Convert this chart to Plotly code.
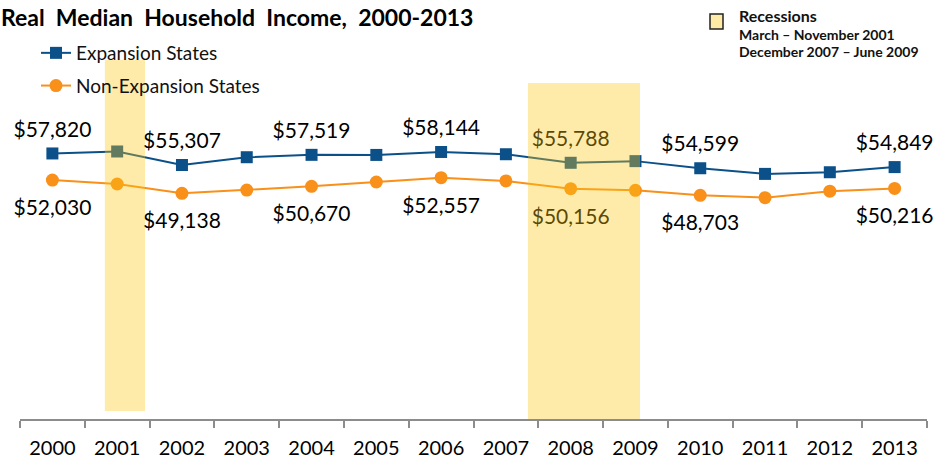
import plotly.graph_objects as go

# Real median household income by year
years = [str(y) for y in range(2000, 2014)]
expansion = [57820, 58250, 55307, 57000, 57519, 57500, 58144,
             57650, 55788, 56150, 54599, 53370, 53730, 54849]
non_expansion = [52030, 51170, 49138, 49850, 50670, 51600, 52557,
                 51830, 50156, 49800, 48703, 48200, 49600, 50216]
labeled_years = ["2000", "2002", "2004", "2006", "2008", "2010", "2013"]

BLUE = "#0B5089"
ORANGE = "#F8901A"
SHADE = "rgba(252,199,20,0.36)"
FONT = "Lato"

# plot-area geometry in pixels (used to place items outside the axes)
W, H = 934, 466
L, R, T, B = 20, 7, 47, 47
PW, PH = W - L - R, H - T - B
YMAX = 81000


def px_x(px):
    return (px - L) / PW


def px_y(py):
    return (H - B - py) / PH


def money(v):
    return "${:,}".format(v)


fig = go.Figure()

fig.add_trace(go.Scatter(
    x=years, y=expansion, name="Expansion States", mode="lines+markers",
    line=dict(color=BLUE, width=2),
    marker=dict(symbol="square", size=12, color=BLUE),
    legendgroup="a",
))
fig.add_trace(go.Scatter(
    x=years, y=non_expansion, name="Non-Expansion States", mode="lines+markers",
    line=dict(color=ORANGE, width=2),
    marker=dict(symbol="circle", size=13, color=ORANGE),
    legendgroup="b",
))

# value labels (invisible markers set the text offset from the point)
idx = [years.index(y) for y in labeled_years]
fig.add_trace(go.Scatter(
    x=labeled_years, y=[expansion[i] for i in idx],
    text=[money(expansion[i]) for i in idx],
    mode="markers+text", textposition="top center",
    marker=dict(size=17, opacity=0),
    textfont=dict(family=FONT, size=21, color="#000000"),
    cliponaxis=False, showlegend=False, hoverinfo="skip",
))
fig.add_trace(go.Scatter(
    x=labeled_years, y=[non_expansion[i] for i in idx],
    text=[money(non_expansion[i]) for i in idx],
    mode="markers+text", textposition="bottom center",
    marker=dict(size=29, opacity=0),
    textfont=dict(family=FONT, size=21, color="#000000"),
    cliponaxis=False, showlegend=False, hoverinfo="skip",
))

shapes = [
    # recession shading: March–November 2001, December 2007–June 2009
    dict(type="rect", xref="x", yref="y", x0=0.81, x1=1.43, y0=1750, y1=78200,
         fillcolor=SHADE, line=dict(width=0), layer="above"),
    dict(type="rect", xref="x", yref="y", x0=7.34, x1=9.07, y0=0, y1=73150,
         fillcolor=SHADE, line=dict(width=0), layer="above"),
    # legend swatch for recessions
    dict(type="rect", xref="paper", yref="paper",
         x0=px_x(710), x1=px_x(723), y0=px_y(29), y1=px_y(14),
         fillcolor="#FFEBA6", line=dict(color="#222222", width=1.5)),
]

annotations = [
    dict(text="<b>Real&nbsp; Median&nbsp; Household&nbsp; Income,&nbsp; 2000-2013</b>",
         xref="paper", yref="paper", x=px_x(-1), y=px_y(17),
         xanchor="left", yanchor="middle", showarrow=False,
         font=dict(family=FONT, size=23, color="#000000")),
    dict(text="<b>Recessions</b>", xref="paper", yref="paper",
         x=px_x(737), y=px_y(15), xanchor="left", yanchor="middle",
         showarrow=False, font=dict(family=FONT, size=16, color="#111111")),
    dict(text="<b>March – November 2001</b>", xref="paper", yref="paper",
         x=px_x(737), y=px_y(34), xanchor="left", yanchor="middle",
         showarrow=False, font=dict(family=FONT, size=14, color="#111111")),
    dict(text="<b>December 2007 – June 2009</b>", xref="paper", yref="paper",
         x=px_x(737), y=px_y(52), xanchor="left", yanchor="middle",
         showarrow=False, font=dict(family=FONT, size=14, color="#111111")),
]

fig.update_layout(
    width=W, height=H,
    margin=dict(l=L, r=R, t=T, b=B, pad=0),
    paper_bgcolor="white", plot_bgcolor="white",
    showlegend=True,
    legend=dict(x=px_x(36), y=px_y(34), xanchor="left", yanchor="top",
                bgcolor="rgba(0,0,0,0)", font=dict(family=FONT, size=19, color="#111111"),
                tracegroupgap=5, itemwidth=30),
    shapes=shapes,
    annotations=annotations,
    xaxis=dict(type="category", range=[-0.5, 13.5], showgrid=False,
               showline=True, linecolor="#8C8C8C", linewidth=2,
               ticks="outside", tickson="boundaries", ticklen=7,
               tickcolor="#8C8C8C", tickwidth=2, ticklabelstandoff=10,
               tickfont=dict(family=FONT, size=20, color="#000000")),
    yaxis=dict(range=[0, YMAX], showgrid=False, showline=False,
               showticklabels=False, zeroline=False, ticks=""),
)

fig.write_html("out.html")
